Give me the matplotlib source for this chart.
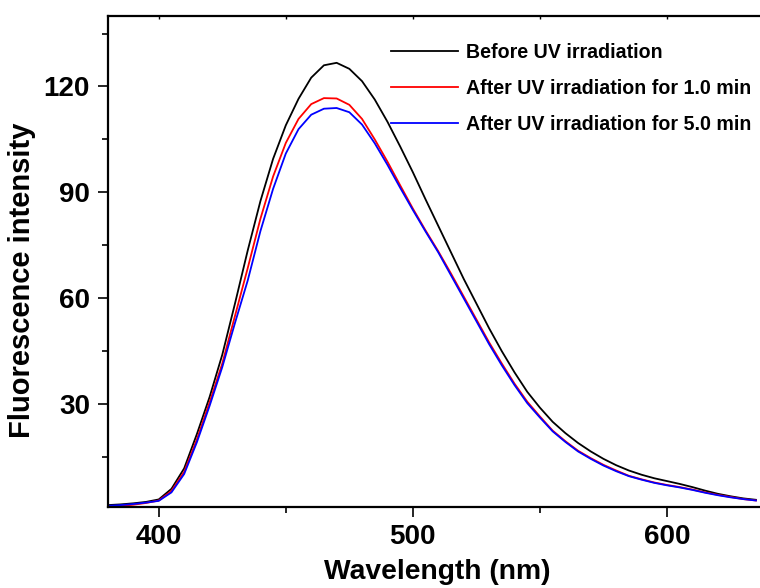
import numpy as np
import matplotlib.pyplot as plt
from matplotlib.ticker import MultipleLocator

plt.rcParams['font.family'] = ['Liberation Sans', 'DejaVu Sans']
plt.rcParams['font.weight'] = 'bold'

# emission spectra (every 5 nm)
wavelength = np.arange(380, 640, 5)
before_uv = [1.4, 1.6, 1.9, 2.3, 3.0, 6.0, 11.8, 21.5, 32.0, 44.0,
             58.5, 73.5, 87.5, 99.5, 109.0, 116.5, 122.5, 126.0, 126.7, 125.0,
             121.5, 116.3, 110.0, 103.0, 95.7, 88.0, 80.5, 73.0, 65.5, 58.5,
             51.5, 45.0, 39.0, 33.5, 29.0, 25.0, 21.8, 19.0, 16.6, 14.5,
             12.7, 11.2, 10.0, 9.0, 8.2, 7.4, 6.5, 5.5, 4.6, 3.9,
             3.3, 2.9]
after_1min = [1.0, 1.2, 1.5, 2.0, 2.7, 5.4, 10.8, 20.0, 30.5, 41.5,
              55.0, 68.5, 82.5, 94.5, 104.0, 110.8, 115.0, 116.7, 116.6, 114.8,
              110.8, 105.0, 98.7, 92.0, 85.4, 79.2, 73.3, 67.0, 60.5, 54.0,
              47.5, 41.5, 35.8, 30.7, 26.5, 22.5, 19.5, 16.8, 14.7, 12.8,
              11.2, 9.7, 8.7, 7.8, 7.1, 6.5, 5.8, 5.0, 4.3, 3.7,
              3.1, 2.7]
after_5min = [1.2, 1.4, 1.7, 2.1, 2.6, 5.0, 10.2, 19.2, 29.5, 40.5,
              53.0, 65.0, 79.0, 91.0, 101.0, 107.9, 112.0, 113.7, 113.9, 112.7,
              109.2, 103.9, 97.8, 91.3, 85.0, 78.9, 73.0, 66.5, 60.0, 53.5,
              47.0, 41.0, 35.4, 30.3, 26.2, 22.3, 19.3, 16.6, 14.5, 12.6,
              11.0, 9.6, 8.6, 7.7, 7.0, 6.4, 5.7, 4.9, 4.2, 3.6,
              3.1, 2.7]
labels = ['Before UV irradiation',
          'After UV irradiation for 1.0 min',
          'After UV irradiation for 5.0 min']
colors = ['black', 'red', 'blue']

fig = plt.figure(figsize=(7.6, 5.88), dpi=100)
ax = fig.add_axes([0.142, 0.138, 0.858, 0.835])

for y, lab, c in zip([before_uv, after_1min, after_5min], labels, colors):
    ax.plot(wavelength, y, color=c, lw=1.3, label=lab)

ax.set_xlim(380, 636.6)
ax.set_ylim(0.9, 140)
ax.xaxis.set_major_locator(MultipleLocator(100))
ax.xaxis.set_minor_locator(MultipleLocator(50))
ax.yaxis.set_major_locator(MultipleLocator(30))
ax.yaxis.set_minor_locator(MultipleLocator(15))
ax.tick_params(which='major', direction='out', length=7, width=1.2,
               labelsize=20, pad=5)
ax.tick_params(which='minor', direction='out', length=4, width=1.2)
ax.tick_params(axis='y', pad=6)
for lbl in ax.get_xticklabels() + ax.get_yticklabels():
    lbl.set_fontweight('bold')

for s in ['left', 'bottom', 'top']:
    ax.spines[s].set_linewidth(1.6)
ax.spines['right'].set_visible(False)

# small inward ticks on the top frame
top = ax.secondary_xaxis('top')
top.set_xticks(np.arange(400, 601, 50))
top.tick_params(direction='in', length=2, width=1, labeltop=False)
top.spines['top'].set_visible(False)

ax.set_xlabel('Wavelength (nm)', fontsize=20.3, fontweight='bold')
ax.set_ylabel('Fluorescence intensity', fontsize=21, fontweight='bold')
ax.xaxis.set_label_coords(0.505, -0.106)
ax.yaxis.set_label_coords(-0.111, 0.462)

ax.legend(loc='upper left', bbox_to_anchor=(0.515, 0.927),
          bbox_transform=fig.transFigure, frameon=False,
          prop={'size': 14.1, 'weight': 'bold'}, handlelength=3.4,
          handletextpad=0.42, labelspacing=0.865, borderpad=0, borderaxespad=0)

fig.savefig('out.png', dpi=100)
